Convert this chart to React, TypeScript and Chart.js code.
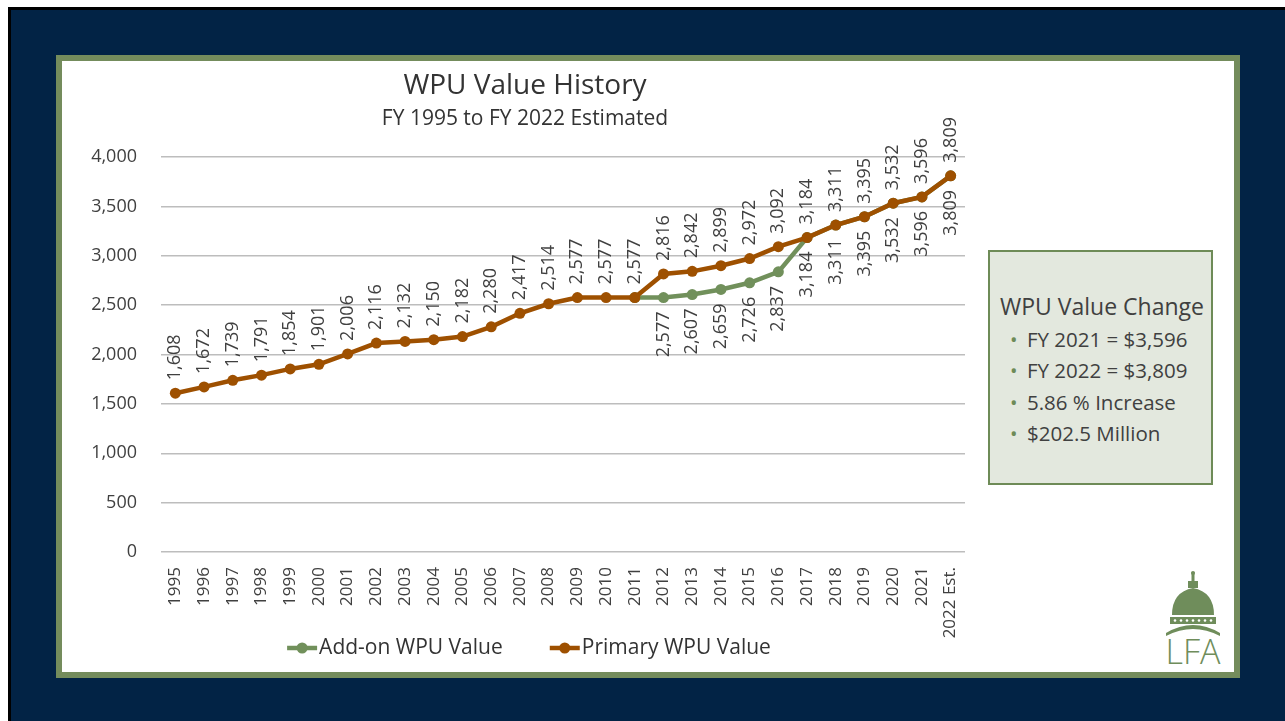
import React, { useEffect, useRef } from "react";
import { Chart, registerables } from "chart.js";

Chart.register(...registerables);

const categories = [
  "1995", "1996", "1997", "1998", "1999", "2000", "2001", "2002", "2003", "2004",
  "2005", "2006", "2007", "2008", "2009", "2010", "2011", "2012", "2013", "2014",
  "2015", "2016", "2017", "2018", "2019", "2020", "2021", "2022 Est.",
];

const primaryValues = [
  1608, 1672, 1739, 1791, 1854, 1901, 2006, 2116, 2132, 2150,
  2182, 2280, 2417, 2514, 2577, 2577, 2577, 2816, 2842, 2899,
  2972, 3092, 3184, 3311, 3395, 3532, 3596, 3809,
];

const addOnValues: (number | null)[] = [
  null, null, null, null, null, null, null, null, null, null,
  null, null, null, null, null, null, 2577, 2577, 2607, 2659,
  2726, 2837, 3184, 3311, 3395, 3532, 3596, 3809,
];

const yMin = 0;
const yMax = 4000;
const yStep = 500;

const chartTitle = "WPU Value History";
const chartSubtitle = "FY 1995 to FY 2022 Estimated";
const primaryLabel = "Primary WPU Value";
const addOnLabel = "Add-on WPU Value";

const summaryTitle = "WPU Value Change";
const summaryItems = [
  "FY 2021 = $3,596",
  "FY 2022 = $3,809",
  "5.86 % Increase",
  "$202.5 Million",
];

const FONT = "'Open Sans', 'DejaVu Sans', sans-serif";
const NAVY = "#022345";
const FRAME_GREEN = "#748C5C";
const ORANGE = "#9E5000";
const GREEN_LINE = "#71905B";
const TEXT = "#404040";
const GRID = "#bdbdbd";

const fmt = (v: number) => v.toLocaleString("en-US");

const dataLabelPlugin = {
  id: "rotatedDataLabels",
  afterDatasetsDraw(chart: any) {
    const ctx = chart.ctx as CanvasRenderingContext2D;
    chart.data.datasets.forEach((ds: any, di: number) => {
      const meta = chart.getDatasetMeta(di);
      const above = ds.labelPosition === "above";
      let firstSeen = false;
      meta.data.forEach((pt: any, i: number) => {
        const v = ds.data[i];
        if (v === null || v === undefined) return;
        if (!above && !firstSeen) {
          // first add-on point coincides with the primary series
          firstSeen = true;
          return;
        }
        ctx.save();
        ctx.font = `18px ${FONT}`;
        ctx.fillStyle = TEXT;
        ctx.textBaseline = "middle";
        if (above) {
          ctx.translate(pt.x, pt.y - 13);
          ctx.rotate(-Math.PI / 2);
          ctx.textAlign = "left";
        } else {
          ctx.translate(pt.x, pt.y + 14);
          ctx.rotate(-Math.PI / 2);
          ctx.textAlign = "right";
        }
        ctx.fillText(fmt(v), 0, 0);
        ctx.restore();
      });
    });
  },
};

const lineLegendPlugin = {
  id: "lineLegend",
  afterDraw(chart: any) {
    const ctx = chart.ctx as CanvasRenderingContext2D;
    const items = chart.data.datasets
      .map((ds: any) => ({ text: ds.label as string, color: ds.borderColor as string }))
      .reverse();
    const markerW = 30;
    const textGap = 2;
    const itemGap = 47;
    ctx.save();
    ctx.font = `21px ${FONT}`;
    const widths = items.map((it: any) => markerW + textGap + ctx.measureText(it.text).width);
    const total = widths.reduce((a: number, b: number) => a + b, 0) + itemGap * (items.length - 1);
    let x = chart.width / 2 + 4 - total / 2;
    const y = chart.height - 24;
    items.forEach((it: any, i: number) => {
      ctx.strokeStyle = it.color;
      ctx.fillStyle = it.color;
      ctx.lineWidth = 4.5;
      ctx.beginPath();
      ctx.moveTo(x, y);
      ctx.lineTo(x + markerW, y);
      ctx.stroke();
      ctx.beginPath();
      ctx.arc(x + markerW / 2, y, 5.5, 0, Math.PI * 2);
      ctx.fill();
      ctx.fillStyle = "#333333";
      ctx.textAlign = "left";
      ctx.textBaseline = "middle";
      ctx.fillText(it.text, x + markerW + textGap, y);
      x += widths[i] + itemGap;
    });
    ctx.restore();
  },
};

function WpuChart() {
  const ref = useRef<HTMLCanvasElement | null>(null);
  useEffect(() => {
    if (!ref.current) return;
    Chart.defaults.font.family = FONT;
    const chart = new Chart(ref.current, {
      type: "line",
      data: {
        labels: categories,
        datasets: [
          {
            label: primaryLabel,
            data: primaryValues,
            borderColor: ORANGE,
            backgroundColor: ORANGE,
            pointBackgroundColor: ORANGE,
            pointBorderWidth: 0,
            pointRadius: 5.5,
            borderWidth: 4.5,
            tension: 0,
            labelPosition: "above",
          } as any,
          {
            label: addOnLabel,
            data: addOnValues,
            borderColor: GREEN_LINE,
            backgroundColor: GREEN_LINE,
            pointBackgroundColor: GREEN_LINE,
            pointBorderWidth: 0,
            pointRadius: 5.5,
            borderWidth: 4.5,
            tension: 0,
            labelPosition: "below",
          } as any,
        ],
      },
      options: {
        responsive: false,
        animation: false,
        events: [],
        layout: { padding: { left: 23, right: 23, top: 0, bottom: 0 } },
        plugins: {
          title: {
            display: true,
            text: chartTitle,
            color: "#333333",
            font: { family: FONT, size: 28, weight: "normal" as any },
            padding: { top: 8, bottom: 0 },
          },
          subtitle: {
            display: true,
            text: chartSubtitle,
            color: "#333333",
            font: { family: FONT, size: 21, weight: "normal" as any },
            padding: { top: 4, bottom: 25.2 },
          },
          legend: { display: false },
          tooltip: { enabled: false },
        },
        scales: {
          x: {
            offset: true,
            grid: { display: false, drawTicks: false },
            border: { display: false },
            ticks: {
              autoSkip: false,
              minRotation: 90,
              maxRotation: 90,
              padding: 15,
              color: TEXT,
              font: { family: FONT, size: 17 },
            },
            afterFit: (s: any) => {
              s.height = 120;
            },
          },
          y: {
            min: yMin,
            max: yMax,
            grid: { color: GRID, lineWidth: 1.5, drawTicks: false },
            border: { display: false },
            ticks: {
              stepSize: yStep,
              padding: 24,
              color: TEXT,
              font: { family: FONT, size: 18 },
              callback: (v: any) => fmt(Number(v)),
            },
            afterFit: (s: any) => {
              s.width = 76;
            },
          },
        },
      },
      plugins: [dataLabelPlugin, lineLegendPlugin],
    });
    return () => chart.destroy();
  }, []);
  return (
    <canvas
      ref={ref}
      width={926}
      height={611}
      style={{ position: "absolute", left: 54, top: 54, width: 926, height: 611 }}
    />
  );
}

function Logo() {
  const c = "#6F8D5B";
  return (
    <svg
      width={64}
      height={98}
      viewBox="0 0 64 98"
      style={{ position: "absolute", left: 1153, top: 563 }}
    >
      <rect x={30.5} y={2} width={3} height={10} fill={c} />
      <circle cx={32} cy={3} r={2} fill={c} />
      <rect x={27} y={11} width={10} height={7} fill={c} />
      <path d="M11 45 Q11 22 32 18 Q53 22 53 45 Z" fill={c} />
      <rect x={9} y={47} width={46} height={7} fill={c} />
      {[14, 20, 26, 32, 38, 44, 50].map((x) => (
        <circle key={x} cx={x} cy={50.5} r={1.3} fill="#ffffff" />
      ))}
      <path d="M5 63 Q32 47 59 63 L59 66 Q32 52 5 66 Z" fill={c} />
      <text
        x={32}
        y={94}
        textAnchor="middle"
        fontFamily="'Open Sans', sans-serif"
        fontWeight={300}
        fontSize={34}
        fill={c}
      >
        LFA
      </text>
    </svg>
  );
}

function SummaryBox() {
  return (
    <div
      style={{
        position: "absolute",
        left: 980,
        top: 243,
        width: 225,
        height: 235,
        boxSizing: "border-box",
        border: "2px solid #6E8B57",
        background: "#E3E8DE",
        fontFamily: FONT,
        color: TEXT,
      }}
    >
      <div
        style={{
          position: "absolute",
          left: 10,
          top: 41,
          fontSize: 23,
          lineHeight: "26px",
          whiteSpace: "nowrap",
        }}
      >
        {summaryTitle}
      </div>
      {summaryItems.map((t, i) => (
        <div
          key={t}
          style={{
            position: "absolute",
            left: 0,
            top: 72 + i * 31.3,
            height: 31,
            lineHeight: "31px",
            fontSize: 20.5,
            whiteSpace: "nowrap",
          }}
        >
          <span style={{ position: "absolute", left: 20, color: "#6E8B57", fontSize: 20 }}>•</span>
          <span style={{ position: "absolute", left: 37 }}>{t}</span>
        </div>
      ))}
    </div>
  );
}

export default function App() {
  return (
    <div
      style={{
        position: "fixed",
        left: 8,
        top: 7,
        width: 1277,
        height: 714,
        background: NAVY,
        overflow: "hidden",
      }}
    >
      <div style={{ position: "absolute", left: 0, top: 0, width: "100%", height: 3, background: "#000" }} />
      <div style={{ position: "absolute", left: 0, top: 0, width: 3, height: "100%", background: "#000" }} />
      <div
        style={{
          position: "absolute",
          left: 48,
          top: 48,
          width: 1184,
          height: 623,
          boxSizing: "border-box",
          border: `6px solid ${FRAME_GREEN}`,
          background: "#ffffff",
        }}
      />
      <WpuChart />
      <SummaryBox />
      <Logo />
    </div>
  );
}
